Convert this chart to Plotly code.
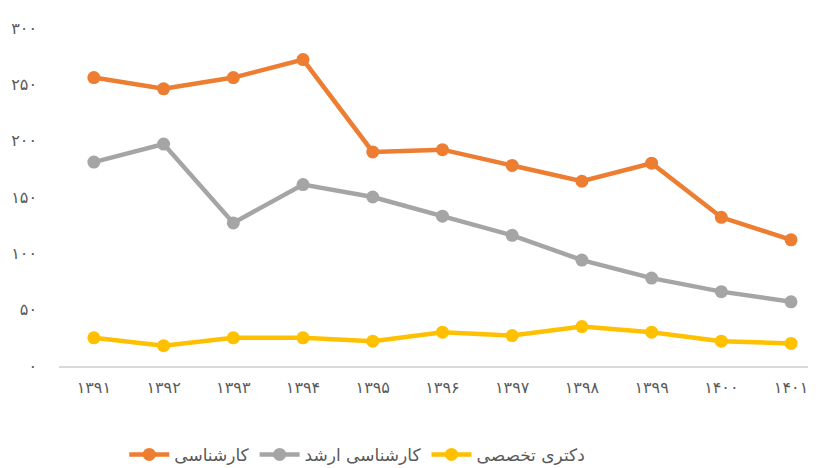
import plotly.graph_objects as go

# Chart data
years = [1391, 1392, 1393, 1394, 1395, 1396, 1397, 1398, 1399, 1400, 1401]
bachelor = [256, 246, 256, 272, 190, 192, 178, 164, 180, 132, 112]
master = [181, 197, 127, 161, 150, 133, 116, 94, 78, 66, 57]
phd = [25, 18, 25, 25, 22, 30, 27, 35, 30, 22, 20]

series_names = ["کارشناسی", "کارشناسی ارشد", "دکتری تخصصی"]
series_colors = ["#ED7D31", "#A5A5A5", "#FFC000"]

y_ticks = [0, 50, 100, 150, 200, 250, 300]

FA_DIGITS = str.maketrans("0123456789", "۰۱۲۳۴۵۶۷۸۹")


def fa(n):
    return str(n).translate(FA_DIGITS)


x_labels = [fa(y) for y in years]

fig = go.Figure()

for name, values, color in zip(series_names, [bachelor, master, phd], series_colors):
    fig.add_trace(
        go.Scatter(
            x=x_labels,
            y=values,
            mode="lines+markers",
            name=name,
            line=dict(color=color, width=4.5),
            marker=dict(color=color, size=13),
        )
    )

# the page body adds an 8px margin at top/left, so the figure is shifted by 8px
fig.update_layout(
    width=808,
    height=460,
    margin=dict(l=51, r=0, t=20, b=102, autoexpand=False),
    paper_bgcolor="white",
    plot_bgcolor="white",
    font=dict(family="DejaVu Sans", color="#595959"),
    showlegend=True,
    legend=dict(
        orientation="h",
        x=0.394,
        xanchor="center",
        y=-0.263,
        yanchor="middle",
        font=dict(size=17, color="#595959"),
        itemwidth=40,
    ),
    xaxis=dict(
        type="category",
        range=[-0.5, 10.358],
        automargin=False,
        showgrid=False,
        showline=True,
        linecolor="#D9D9D9",
        linewidth=1.5,
        ticks="",
        tickfont=dict(size=16, color="#595959"),
        ticklabelstandoff=6,
    ),
    yaxis=dict(
        range=[0, 300],
        automargin=False,
        tickvals=y_ticks,
        ticktext=[fa(v) for v in y_ticks],
        showgrid=False,
        zeroline=False,
        showline=False,
        ticks="",
        tickfont=dict(size=16, color="#595959"),
        ticklabelstandoff=21,
    ),
)

fig.write_html("out.html")
